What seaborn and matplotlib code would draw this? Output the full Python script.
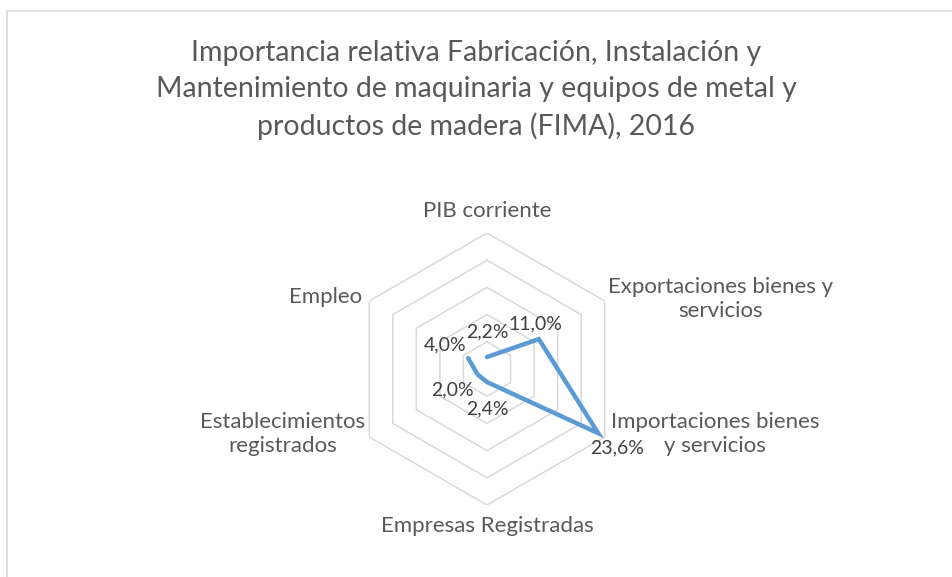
import numpy as np
import pandas as pd
import matplotlib
matplotlib.use("Agg")
import matplotlib.pyplot as plt
from matplotlib.patches import Rectangle
import seaborn as sns

# datos del gráfico
categorias = ["PIB corriente", "Exportaciones bienes y\nservicios",
              "Importaciones bienes\ny servicios", "Empresas Registradas",
              "Establecimientos\nregistrados", "Empleo"]
valores = [2.2, 11.0, 23.6, 2.4, 2.0, 4.0]
etiquetas = ["2,2%", "11,0%", "23,6%", "2,4%", "2,0%", "4,0%"]
anillos = [5, 10, 15, 20, 25]
titulo = ("Importancia relativa Fabricación, Instalación y\n"
          "Mantenimiento de maquinaria y equipos de metal y\n"
          "productos de madera (FIMA), 2016")

sns.set_theme(style="white")
plt.rcParams["font.family"] = ["Lato", "DejaVu Sans"]
gris = "#595959"
azul = "#5b9bd5"

n = len(categorias)
angulos = [i * 2 * np.pi / n for i in range(n)]
df = pd.DataFrame({"theta": angulos + angulos[:1], "valor": valores + valores[:1]})

fig = plt.figure(figsize=(9.52, 5.77), dpi=100)
ax = fig.add_axes([351 / 952, 72 / 577, 272 / 952, 272 / 577], projection="polar")
ax.set_theta_zero_location("N")
ax.set_theta_direction(-1)

# rejilla hexagonal
for r in anillos:
    ax.plot(angulos + angulos[:1], [r] * (n + 1), color="#d9d9d9", lw=1.1, zorder=1)

sns.lineplot(data=df, x="theta", y="valor", sort=False, ax=ax, color=azul,
             linewidth=3.2, zorder=3)
ax.lines[-1].set_solid_joinstyle("miter")

ax.set_ylim(0, max(anillos))
ax.grid(False)
ax.set_xticks([])
ax.set_yticks([])
ax.set_xlabel("")
ax.set_ylabel("")
ax.spines["polar"].set_visible(False)
ax.set_facecolor("none")

# etiquetas de categoría
cat_off = [(0, 22, "center"), (3, 2, "left"), (6, 3, "left"),
           (0, -21, "center"), (-4, 3, "right"), (-7, 4, "right")]
for ang, cat, (dx, dy, ha) in zip(angulos, categorias, cat_off):
    ax.annotate(cat, xy=(ang, max(anillos)), xytext=(dx, dy), textcoords="offset pixels",
                ha=ha, va="center", multialignment="center", fontsize=16, color=gris,
                linespacing=1.3, annotation_clip=False)

# etiquetas de datos
dat_off = [(0, 25), (-3, 15), (19, -15), (0, -27), (-25, -15), (-23, 13)]
for ang, v, lab, (dx, dy) in zip(angulos, valores, etiquetas, dat_off):
    ax.annotate(lab, xy=(ang, v), xytext=(dx, dy), textcoords="offset pixels",
                ha="center", va="center", fontsize=14, color="#404040",
                annotation_clip=False)

fig.text(0.5, 1 - 90 / 577, titulo, ha="center", va="center", fontsize=20.5,
         color=gris, linespacing=1.45)

fig.add_artist(Rectangle((6.5 / 952, -0.05), 1.1, 1.05 - 10.5 / 577, transform=fig.transFigure,
                         fill=False, edgecolor="#d9d9d9", lw=1.2))

fig.savefig("out.png", dpi=100)
